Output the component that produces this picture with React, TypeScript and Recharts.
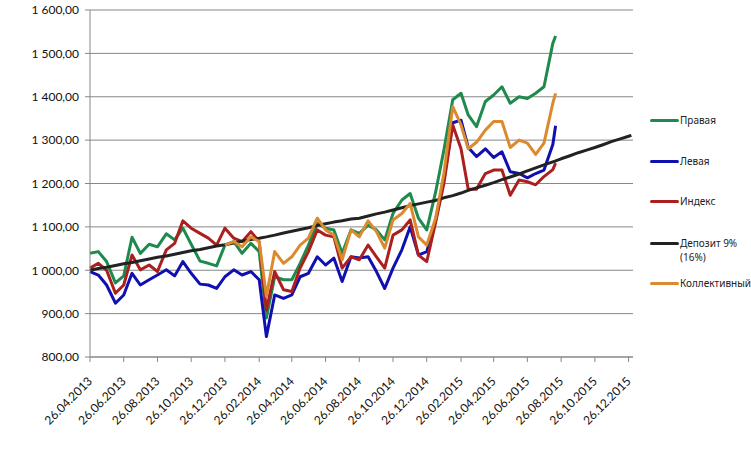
import { CartesianGrid, Line, LineChart, XAxis, YAxis } from "recharts";

// semi-monthly observation dates; the deposit line runs on to the end of 2015
const dates = [
  "26.04.2013", "11.05.2013", "26.05.2013", "11.06.2013", "26.06.2013",
  "11.07.2013", "26.07.2013", "11.08.2013", "26.08.2013", "11.09.2013",
  "26.09.2013", "11.10.2013", "26.10.2013", "11.11.2013", "26.11.2013",
  "11.12.2013", "26.12.2013", "11.01.2014", "26.01.2014", "11.02.2014",
  "26.02.2014", "11.03.2014", "26.03.2014", "11.04.2014", "26.04.2014",
  "11.05.2014", "26.05.2014", "11.06.2014", "26.06.2014", "11.07.2014",
  "26.07.2014", "11.08.2014", "26.08.2014", "11.09.2014", "26.09.2014",
  "11.10.2014", "26.10.2014", "11.11.2014", "26.11.2014", "11.12.2014",
  "26.12.2014", "11.01.2015", "26.01.2015", "11.02.2015", "26.02.2015",
  "11.03.2015", "26.03.2015", "11.04.2015", "26.04.2015", "11.05.2015",
  "26.05.2015", "11.06.2015", "26.06.2015", "11.07.2015", "26.07.2015",
  "11.08.2015", "16.08.2015", "26.08.2015", "11.09.2015", "26.09.2015",
  "11.10.2015", "26.10.2015", "11.11.2015", "26.11.2015", "11.12.2015",
  "26.12.2015", "31.12.2015",
];

const pravaya = [
  1039, 1043, 1020, 971, 987, 1076, 1039, 1060, 1054, 1084,
  1070, 1097, 1060, 1021, 1016, 1010, 1058, 1066, 1039, 1062,
  1043, 890, 985, 978, 978, 1016, 1058, 1108, 1097, 1093,
  1039, 1093, 1085, 1104, 1093, 1070, 1131, 1162, 1177, 1120,
  1093, 1180, 1277, 1393, 1408, 1358, 1331, 1389, 1404, 1423,
  1385, 1400, 1396, 1408, 1423, 1523, 1540,
];

const levaya = [
  997, 989, 966, 924, 943, 993, 966, 978, 989, 1001,
  987, 1020, 993, 968, 966, 958, 985, 1001, 989, 997,
  978, 847, 943, 935, 943, 985, 993, 1031, 1012, 1028,
  974, 1031, 1028, 1031, 997, 958, 1005, 1047, 1100, 1035,
  1043, 1115, 1210, 1340, 1346, 1283, 1262, 1280, 1260, 1273,
  1227, 1223, 1213, 1223, 1231, 1290, 1333,
];

const indeks = [
  1005, 1016, 1000, 947, 966, 1035, 1001, 1012, 997, 1047,
  1062, 1114, 1097, 1085, 1074, 1058, 1097, 1074, 1066, 1089,
  1066, 908, 997, 955, 951, 1005, 1043, 1093, 1081, 1077,
  1005, 1031, 1024, 1058, 1031, 1005, 1081, 1093, 1116, 1035,
  1020, 1110, 1200, 1335, 1280, 1187, 1187, 1223, 1231, 1231,
  1173, 1208, 1204, 1197, 1216, 1232, 1247,
];

const depozit = [
  1000, 1004, 1007, 1011, 1015, 1018, 1022, 1026, 1030, 1033,
  1037, 1041, 1045, 1048, 1052, 1056, 1059, 1063, 1067, 1071,
  1074, 1077, 1081, 1086, 1090, 1094, 1098, 1103, 1107, 1111,
  1114, 1118, 1120, 1125, 1130, 1134, 1139, 1144, 1149, 1153,
  1157, 1161, 1167, 1172, 1178, 1184, 1190, 1196, 1202, 1209,
  1215, 1222, 1229, 1236, 1243, 1250, 1252, 1257, 1264, 1271,
  1277, 1283, 1290, 1297, 1303, 1309, 1311,
];

// starts on 26.12.2013 (index 16)
const kollektivny = [
  null, null, null, null, null, null, null, null, null, null,
  null, null, null, null, null, null,
  1058, 1066, 1054, 1077, 1066, 940, 1043, 1016, 1031, 1058,
  1074, 1120, 1093, 1081, 1024, 1093, 1077, 1114, 1089, 1051,
  1116, 1131, 1154, 1077, 1058, 1120, 1223, 1377, 1335, 1280,
  1295, 1323, 1343, 1343, 1283, 1300, 1293, 1267, 1293, 1385,
  1408,
];

const tickLabels = [
  "26.04.2013", "26.06.2013", "26.08.2013", "26.10.2013", "26.12.2013",
  "26.02.2014", "26.04.2014", "26.06.2014", "26.08.2014", "26.10.2014",
  "26.12.2014", "26.02.2015", "26.04.2015", "26.06.2015", "26.08.2015",
  "26.10.2015", "26.12.2015",
];

const yTicks = [800, 900, 1000, 1100, 1200, 1300, 1400, 1500, 1600];

const series = [
  { key: "g", name: "Правая", color: "#1f8a4d" },
  { key: "b", name: "Левая", color: "#1010b0" },
  { key: "r", name: "Индекс", color: "#ab1f1f" },
  { key: "k", name: "Депозит 9% (16%)", color: "#222222" },
  { key: "o", name: "Коллективный", color: "#dc8a30" },
];

const toDay = (s: string) => {
  const [d, m, y] = s.split(".").map(Number);
  return (Date.UTC(y, m - 1, d) - Date.UTC(2013, 3, 26)) / 86400000;
};

const data = dates.map((s, i) => ({
  d: toDay(s),
  g: pravaya[i] ?? null,
  b: levaya[i] ?? null,
  r: indeks[i] ?? null,
  k: depozit[i] ?? null,
  o: kollektivny[i] ?? null,
}));

const fmt = (v: number) => {
  const [i, f] = v.toFixed(2).split(".");
  const int = i.length > 3 ? i.slice(0, -3) + " " + i.slice(-3) : i;
  return int + "," + f;
};

const FONT = "Lato, 'Noto Sans', sans-serif";
const GRAY = "#878787";

const DateTick = ({ x, y, payload }: any) => (
  <text
    x={x + 3}
    y={y + 18}
    transform={`rotate(-45 ${x + 3} ${y + 18})`}
    textAnchor="end"
    fontSize={12}
    fontFamily={FONT}
    fill="#111"
  >
    {tickLabels[payload.index] ?? ""}
  </text>
);

// vertical centre of each legend row, in page pixels
const legendRows = [120, 161, 201, 243, 283];

const ChartLegend = () => (
  <div style={{ position: "absolute", left: 650, top: 0 }}>
    {series.map((s, i) => (
      <div
        key={s.key}
        style={{
          position: "absolute",
          top: legendRows[i] - 7,
          left: 0,
          display: "flex",
          alignItems: "flex-start",
          fontFamily: "'Noto Sans', sans-serif",
          fontSize: 10,
          lineHeight: "14px",
          color: "#222",
          whiteSpace: "nowrap",
        }}
      >
        <span
          style={{
            display: "inline-block",
            width: 29,
            height: 3,
            marginTop: 6,
            background: s.color,
            borderRadius: 2,
          }}
        />
        <span style={{ paddingLeft: 1 }}>
          {s.key === "k" ? (
            <>
              Депозит 9%
              <br />
              (16%)
            </>
          ) : (
            s.name
          )}
        </span>
      </div>
    ))}
  </div>
);

export default function App() {
  return (
    <div
      style={{
        position: "absolute",
        left: 0,
        top: 0,
        width: 751,
        height: 451,
        background: "#fff",
      }}
    >
      <LineChart
        width={751}
        height={451}
        data={data}
        margin={{ top: 10, right: 118, left: 0, bottom: 0 }}
      >
        <CartesianGrid stroke={GRAY} vertical={false} />
        <XAxis
          dataKey="d"
          type="number"
          domain={[0, 982]}
          ticks={tickLabels.map(toDay)}
          interval={0}
          height={94}
          stroke={GRAY}
          tickSize={5}
          tick={<DateTick />}
        />
        <YAxis
          domain={[800, 1600]}
          ticks={yTicks}
          width={90}
          stroke={GRAY}
          tickSize={5}
          tickMargin={6}
          tickFormatter={fmt}
          tick={{ fontSize: 12, fontFamily: FONT, fill: "#111" }}
        />
        {series.map((s) => (
          <Line
            key={s.key}
            type="linear"
            dataKey={s.key}
            name={s.name}
            stroke={s.color}
            strokeWidth={3}
            strokeLinejoin="round"
            dot={false}
            isAnimationActive={false}
          />
        ))}
      </LineChart>
      <ChartLegend />
    </div>
  );
}
